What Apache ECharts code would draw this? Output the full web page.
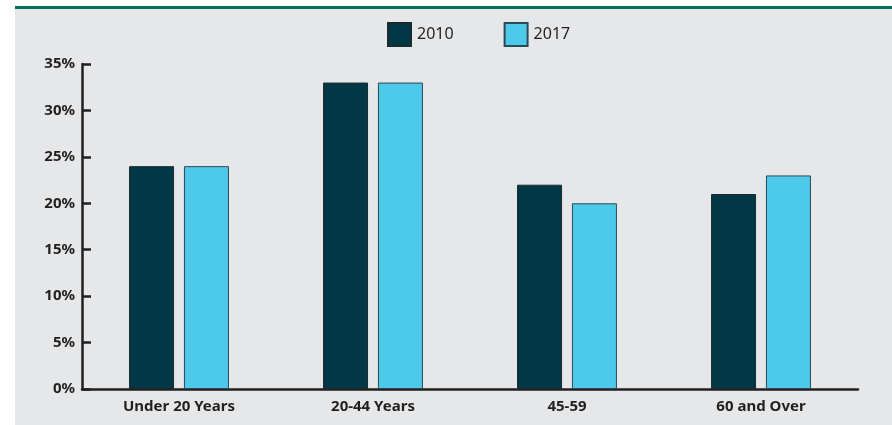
<!DOCTYPE html>
<html><head><meta charset="utf-8">
<script src="https://cdn.jsdelivr.net/npm/echarts@6/dist/echarts.min.js"></script>
<style>html,body{margin:0;padding:0;background:#fff}#c{width:892px;height:425px}</style>
</head><body><div id="c"></div>
<script>
const categories = ['Under 20 Years', '20-44 Years', '45-59', '60 and Over'];
const series2010 = [24, 33, 22, 21];
const series2017 = [24, 33, 20, 23];
const yTicks = [0, 5, 10, 15, 20, 25, 30, 35];

const chart = echarts.init(document.getElementById('c'));
const font = '"Noto Sans", sans-serif';
chart.setOption({
  animation: false,
  graphic: [
    {type: 'rect', shape: {x: 15, y: 9, width: 877, height: 416}, style: {fill: '#e6e7e8'}, z: -10, silent: true},
    {type: 'rect', shape: {x: 15, y: 6, width: 877, height: 3}, style: {fill: '#00705a'}, z: -9, silent: true}
  ],
  legend: {
    top: 17, left: 382, itemWidth: 23, itemHeight: 23, itemGap: 50, icon: 'rect',
    textStyle: {fontFamily: font, fontSize: 16, color: '#231f20', padding: [0, 0, 0, 1]},
    data: ['2010', '2017']
  },
  grid: {left: 82, right: 34, top: 64, bottom: 36},
  xAxis: {
    type: 'category', data: categories,
    axisLine: {lineStyle: {color: '#231f20', width: 2.5}},
    axisTick: {inside: true, length: 9, lineStyle: {color: '#231f20', width: 2.5}},
    axisLabel: {fontFamily: font, fontSize: 15, fontWeight: 'bold', color: '#231f20', margin: 10}
  },
  yAxis: {
    type: 'value', min: 0, max: 35, interval: 5,
    splitLine: {show: false},
    axisLine: {show: true, lineStyle: {color: '#231f20', width: 2.5}},
    axisTick: {show: true, inside: true, length: 9, lineStyle: {color: '#231f20', width: 2.5}},
    axisLabel: {fontFamily: font, fontSize: 15, fontWeight: 'bold', color: '#231f20', margin: 7,
      formatter: v => yTicks.includes(v) ? v + '%' : ''}
  },
  series: [
    {name: '2010', type: 'bar', data: series2010, barWidth: 45, barGap: '22%',
      itemStyle: {color: '#003845', borderColor: '#1a2a2e', borderWidth: 1}},
    {name: '2017', type: 'bar', data: series2017, barWidth: 45,
      itemStyle: {color: '#4dc9e9', borderColor: '#2b4a55', borderWidth: 1}}
  ]
});
</script></body></html>
